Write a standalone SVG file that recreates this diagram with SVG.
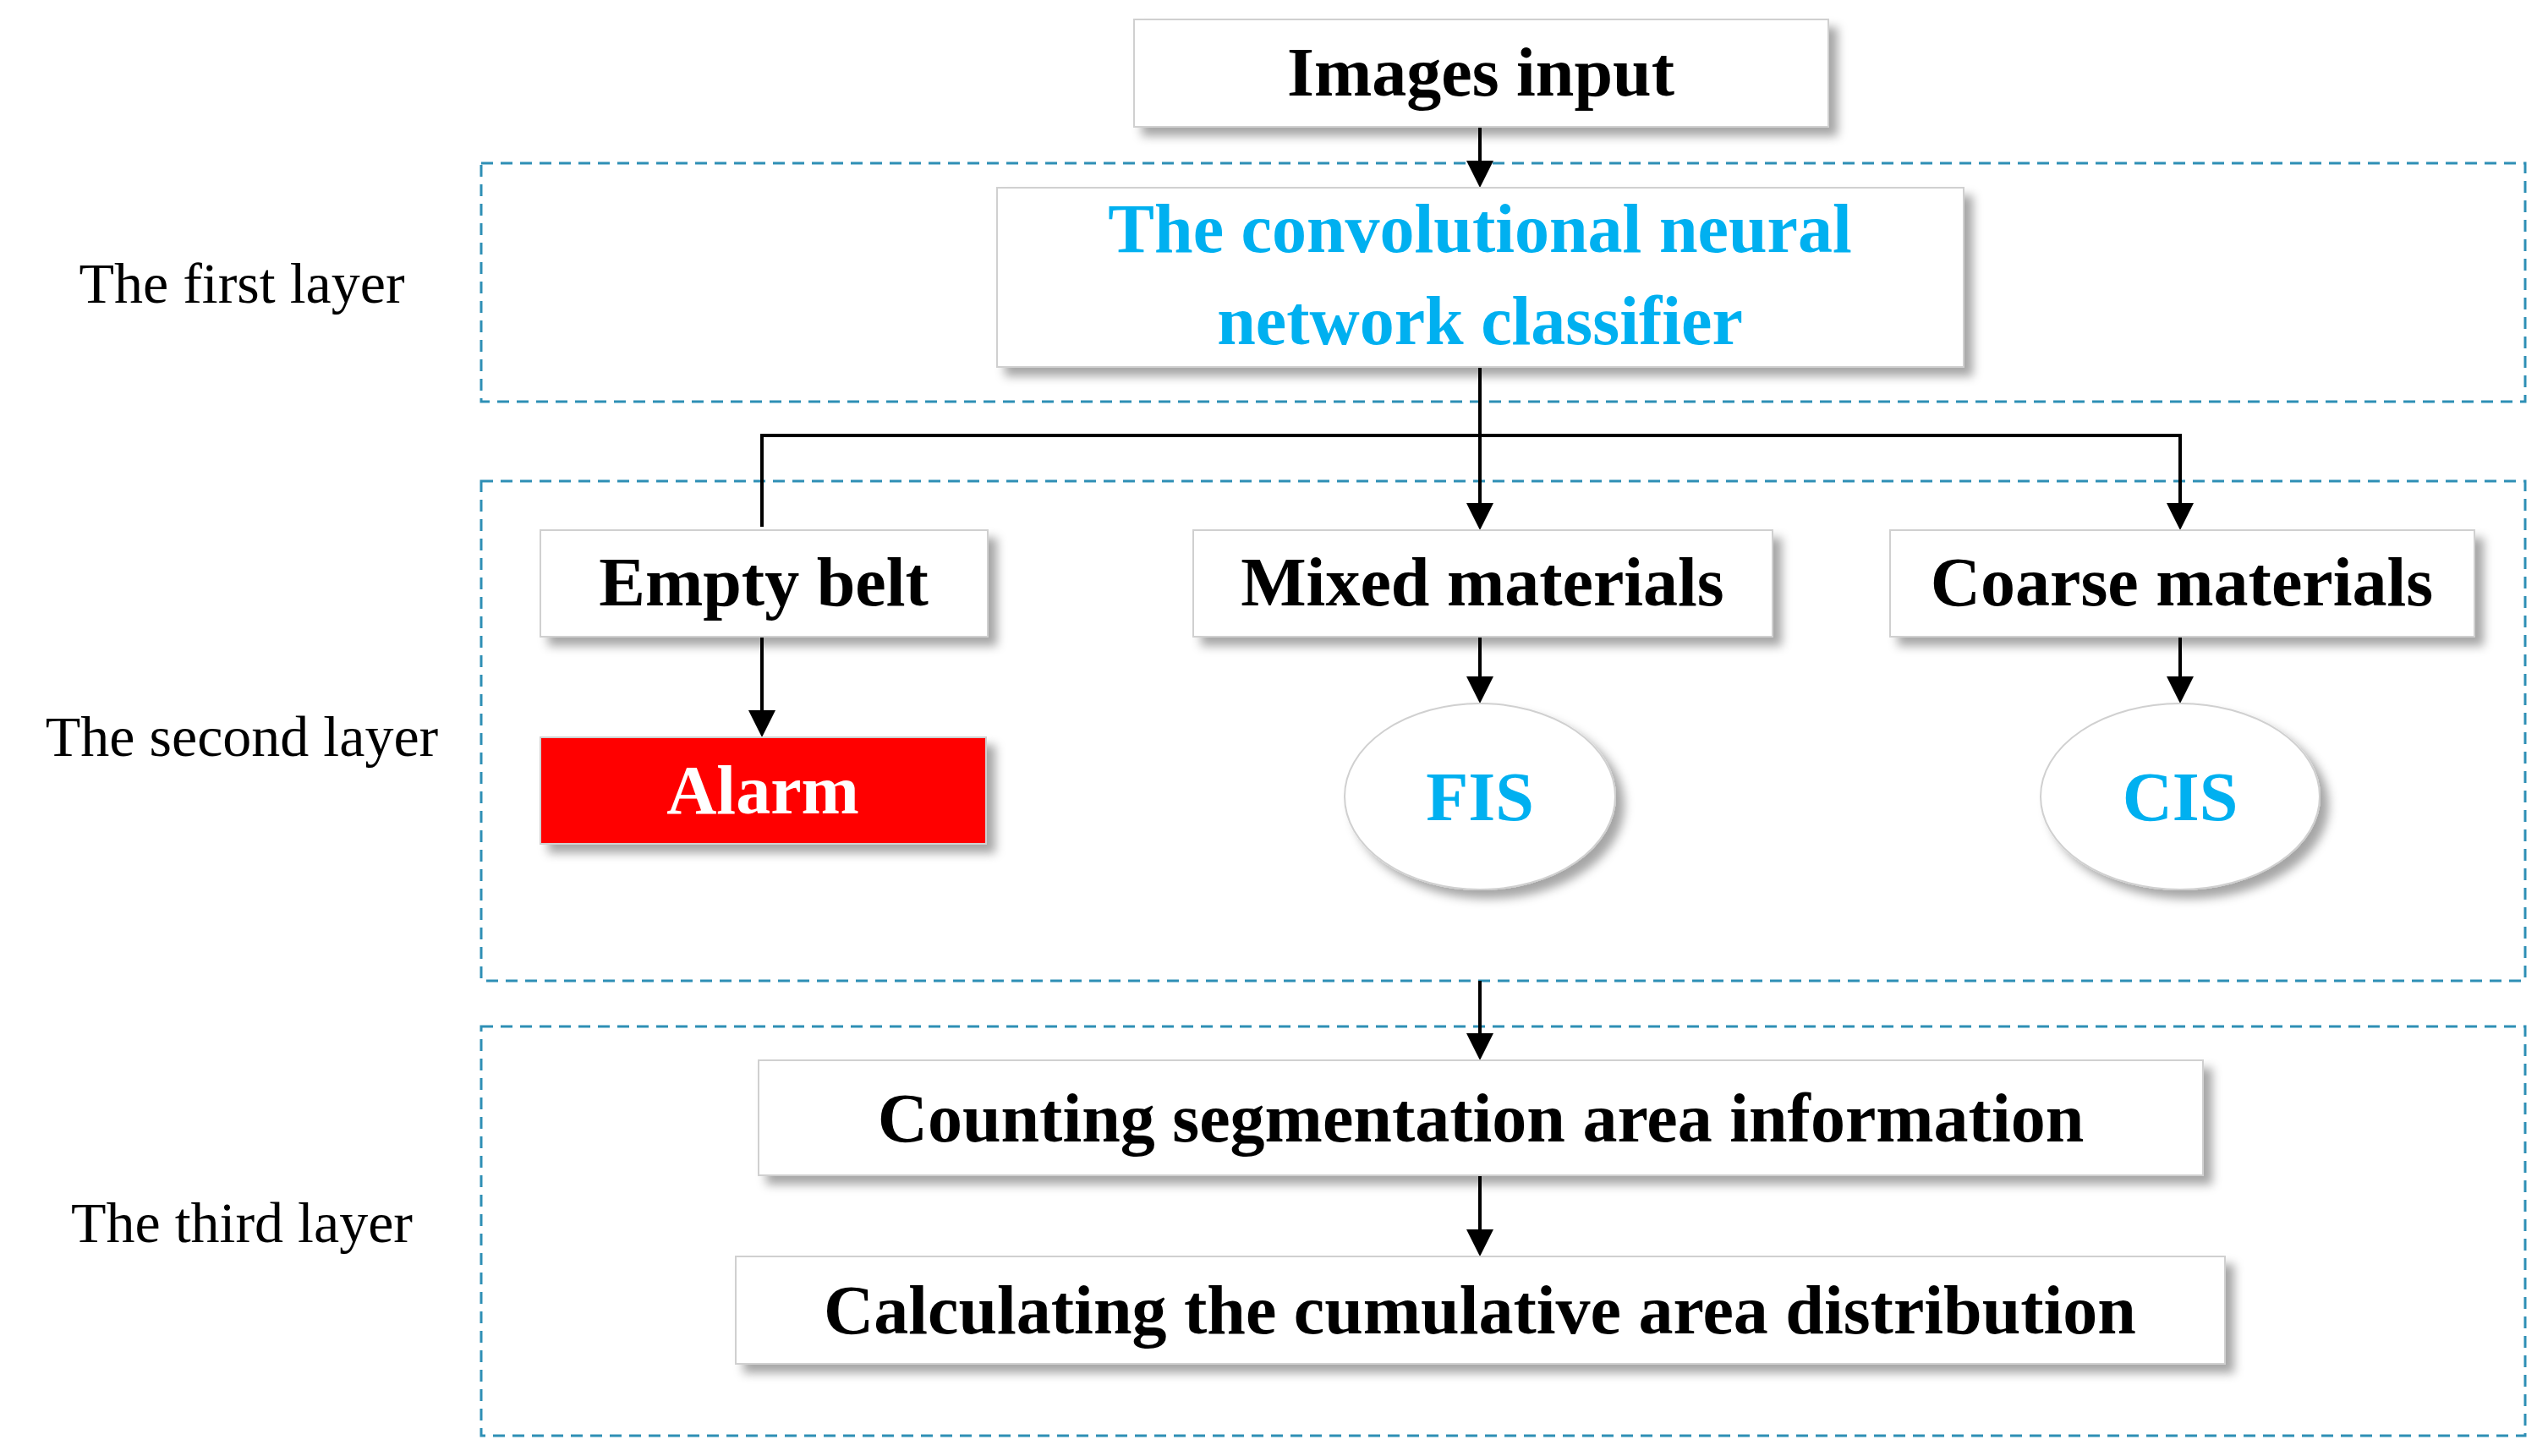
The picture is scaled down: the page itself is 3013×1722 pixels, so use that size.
<svg xmlns="http://www.w3.org/2000/svg" width="3013" height="1722" viewBox="0 0 3013 1722">
<style>
.box{fill:#fff;stroke:#d0d0d0;stroke-width:2;filter:url(#sh)}
.dash{fill:none;stroke:#2e8fb5;stroke-width:3;stroke-dasharray:14 9}
.t{font-family:"Liberation Serif",serif;font-weight:bold;font-size:82px;text-anchor:middle;fill:#000}
.b{fill:#00b0f0}
.lab{font-family:"Liberation Serif",serif;font-size:68px;text-anchor:middle;fill:#000}
.ln{fill:none;stroke:#000;stroke-width:4;marker-end:url(#ar)}
</style>
<defs>
<filter id="sh" x="-10%" y="-20%" width="130%" height="150%"><feDropShadow dx="10" dy="10" stdDeviation="6" flood-color="#000" flood-opacity="0.35"/></filter>
<marker id="ar" markerWidth="8" markerHeight="8" refX="7" refY="4" orient="auto" markerUnits="strokeWidth"><path d="M0,0 L8,4 L0,8 Z" fill="#000"/></marker>
</defs>
<rect width="3013" height="1722" fill="#fff"/>
<g id="layers">
<rect class="dash" x="569" y="193" width="2417" height="282"/>
<rect class="dash" x="569" y="569" width="2417" height="591"/>
<rect class="dash" x="569" y="1214" width="2417" height="484"/>
<text class="lab" x="286" y="358">The first layer</text>
<text class="lab" x="286" y="894">The second layer</text>
<text class="lab" x="286" y="1469">The third layer</text>
</g>
<g id="connectors">
<path class="ln" d="M1750,150 V218"/>
<path class="ln" d="M1750,434 V623"/>
<path class="ln" d="M901,623 V515 H2578 V623"/>
<path class="ln" d="M901,753 V868"/>
<path class="ln" d="M1750,753 V828"/>
<path class="ln" d="M2578,753 V828"/>
<path class="ln" d="M1750,1160 V1250"/>
<path class="ln" d="M1750,1390 V1482"/>
</g>
<g id="images"><rect class="box" x="1341" y="23" width="821" height="127"/><text class="t" x="1751" y="113">Images input</text></g>
<g id="cnn"><rect class="box" x="1179" y="222" width="1143" height="212"/><text class="t b" x="1750" y="298">The convolutional neural</text><text class="t b" x="1750" y="407">network classifier</text></g>
<g id="empty"><rect class="box" x="639" y="627" width="529" height="126"/><text class="t" x="903" y="716">Empty belt</text></g>
<g id="mixed"><rect class="box" x="1411" y="627" width="685" height="126"/><text class="t" x="1753" y="716">Mixed materials</text></g>
<g id="coarse"><rect class="box" x="2235" y="627" width="691" height="126"/><text class="t" x="2580" y="716">Coarse materials</text></g>
<g id="alarm"><rect x="639" y="872" width="527" height="126" fill="#ff0000" stroke="#d0d0d0" stroke-width="2" filter="url(#sh)"/><text class="t" x="902" y="962" fill="#fff" style="fill:#fff">Alarm</text></g>
<g id="fis"><ellipse class="box" cx="1750" cy="942" rx="160" ry="110"/><text class="t b" x="1750" y="970">FIS</text></g>
<g id="cis"><ellipse class="box" cx="2578" cy="942" rx="165" ry="110"/><text class="t b" x="2578" y="970">CIS</text></g>
<g id="counting"><rect class="box" x="897" y="1254" width="1708" height="136"/><text class="t" x="1751" y="1350">Counting segmentation area information</text></g>
<g id="calc"><rect class="box" x="870" y="1486" width="1761" height="127"/><text class="t" x="1750" y="1577">Calculating the cumulative area distribution</text></g>
</svg>
